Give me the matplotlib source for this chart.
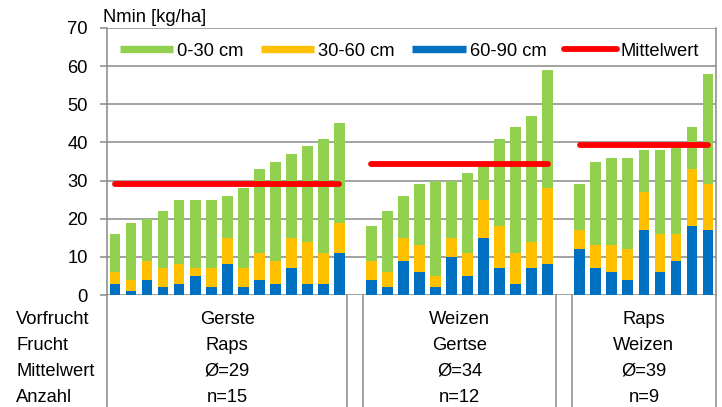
import matplotlib
matplotlib.use("Agg")
import matplotlib.pyplot as plt
from matplotlib.lines import Line2D
import numpy as np

# ---- data ----
vorfrucht = ["Gerste", "Weizen", "Raps"]
frucht = ["Raps", "Gertse", "Weizen"]
mittelwert_labels = ["Ø=29", "Ø=34", "Ø=39"]
anzahl_labels = ["n=15", "n=12", "n=9"]
row_labels = ["Vorfrucht", "Frucht", "Mittelwert", "Anzahl"]

# 60-90 cm (bottom)
d60_90 = [
    [3, 1, 4, 2, 3, 5, 2, 8, 2, 4, 3, 7, 3, 3, 11],
    [4, 2, 9, 6, 2, 10, 5, 15, 7, 3, 7, 8],
    [12, 7, 6, 4, 17, 6, 9, 18, 17],
]
# 30-60 cm (middle)
d30_60 = [
    [3, 3, 5, 5, 5, 2, 5, 7, 5, 7, 6, 8, 11, 8, 8],
    [5, 4, 6, 7, 3, 5, 6, 10, 11, 8, 7, 20],
    [5, 6, 7, 8, 10, 10, 7, 15, 12],
]
# 0-30 cm (top)
d0_30 = [
    [10, 15, 11, 15, 17, 18, 18, 11, 21, 22, 26, 22, 25, 30, 26],
    [9, 16, 11, 16, 25, 15, 21, 9, 23, 33, 33, 31],
    [12, 22, 23, 24, 11, 22, 23, 11, 29],
]
legend_labels = ["0-30 cm", "30-60 cm", "60-90 cm", "Mittelwert"]
yticks = [0, 10, 20, 30, 40, 50, 60, 70]

# ---- styles ----
GREEN = "#92D050"
ORANGE = "#FFC000"
BLUE = "#0070C0"
RED = "#FF0000"
GRID = "#898989"
FS = 13.2

plt.rcParams["font.family"] = ["Liberation Sans", "DejaVu Sans"]

W, H = 722, 407
fig = plt.figure(figsize=(W / 100, H / 100), dpi=100)
ax_l, ax_r, ax_t, ax_b = 107, 716, 28, 295
ax = fig.add_axes([ax_l / W, 1 - ax_b / H, (ax_r - ax_l) / W, (ax_b - ax_t) / H])

# positions: one empty slot between groups
positions = []
start = 0
for g in d0_30:
    positions.append(np.arange(start, start + len(g)))
    start += len(g) + 1
nslots = start - 1

bw = 0.67
for i in range(3):
    x = positions[i]
    b = np.array(d60_90[i])
    o = np.array(d30_60[i])
    gr = np.array(d0_30[i])
    ax.bar(x, b, width=bw, color=BLUE, zorder=3)
    ax.bar(x, o, width=bw, bottom=b, color=ORANGE, zorder=3)
    ax.bar(x, gr, width=bw, bottom=b + o, color=GREEN, zorder=3)
    mean = (b + o + gr).mean()
    ax.plot([x[0], x[-1]], [mean, mean], color=RED, lw=4.2,
            solid_capstyle="round", zorder=4)

ax.set_xlim(-0.5, nslots - 0.5)
ax.set_ylim(0, 70)
ax.set_yticks(yticks)
ax.set_xticks([])
ax.grid(axis="y", color=GRID, lw=1.1, zorder=0)
ax.tick_params(axis="y", length=5, width=1.1, color=GRID, pad=9, labelsize=FS)
for s in ["top", "bottom"]:
    ax.spines[s].set_visible(False)
for s in ["left", "right"]:
    ax.spines[s].set_color(GRID)
    ax.spines[s].set_linewidth(1.1)

# y-axis title
ax.text((103 - ax_l) / (ax_r - ax_l), 1 + (ax_t - 18) / (ax_b - ax_t), "Nmin [kg/ha]",
        transform=ax.transAxes, ha="left", va="center", fontsize=FS)

# legend
handles = [
    Line2D([], [], color=GREEN, lw=5.3, solid_capstyle="butt"),
    Line2D([], [], color=ORANGE, lw=5.3, solid_capstyle="butt"),
    Line2D([], [], color=BLUE, lw=5.3, solid_capstyle="butt"),
    Line2D([], [], color=RED, lw=4.2, solid_capstyle="round"),
]
ax.legend(handles, legend_labels, ncol=4, loc="center left",
          bbox_to_anchor=((120 - ax_l) / (ax_r - ax_l), (ax_b - 51) / (ax_b - ax_t)),
          frameon=False, fontsize=FS, handlelength=2.9, handletextpad=0.22,
          columnspacing=0.95, borderpad=0, borderaxespad=0)

# table below axis
xt = ax.get_xaxis_transform()
bounds = [-0.5]
for p in positions:
    bounds += [p[0] - 0.5, p[-1] + 0.5]
bounds.append(nslots - 0.5)
bounds = sorted(set(bounds))
for bx in bounds:
    ax.plot([bx, bx], [0, -0.5], color=GRID, lw=1.1, transform=xt, clip_on=False)

row_y = [319, 345, 371, 397]
texts = [vorfrucht, frucht, mittelwert_labels, anzahl_labels]
for r, yy in enumerate(row_y):
    yax = (ax_b - yy) / (ax_b - ax_t)
    fig.text(16 / W, 1 - yy / H, row_labels[r], ha="left", va="center", fontsize=FS)
    for i, p in enumerate(positions):
        ax.text((p[0] + p[-1]) / 2, yax, texts[r][i], transform=xt,
                ha="center", va="center", fontsize=FS)

fig.savefig("out.png", dpi=100)
